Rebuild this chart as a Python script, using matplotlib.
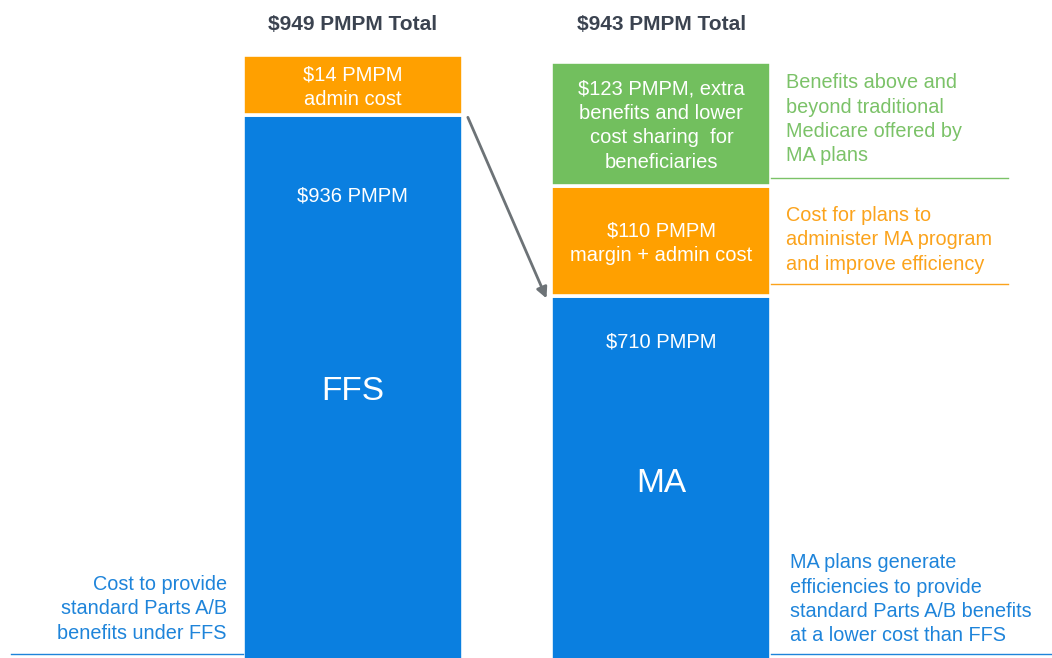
import matplotlib.pyplot as plt

plt.rcParams['font.family'] = ['Liberation Sans', 'DejaVu Sans']

# values shown in the labels ($ PMPM)
bars = ['FFS', 'MA']
totals = [949, 943]
ffs_values = [936, 14]
ma_values = [710, 110, 123]

# the source slide is not drawn to scale: segment sizes as they appear
ffs_drawn = [854, 95]
ma_drawn = [570, 174, 194]

ffs_labels = ['', '$14 PMPM\nadmin cost']
ma_labels = ['', '$110 PMPM\nmargin + admin cost',
             '$123 PMPM, extra\nbenefits and lower\ncost sharing  for\nbeneficiaries']

ma_notes = ['MA plans generate\nefficiencies to provide\nstandard Parts A/B benefits\nat a lower cost than FFS',
            'Cost for plans to\nadminister MA program\nand improve efficiency',
            'Benefits above and\nbeyond traditional\nMedicare offered by\nMA plans']
ffs_note = 'Cost to provide\nstandard Parts A/B\nbenefits under FFS'

blue = '#0a7fe0'
orange = '#ffa000'
green = '#72bf5e'
seg_colors = [blue, orange, green]
note_colors = ['#1e84da', '#fba31c', '#7bc268']

fig = plt.figure(figsize=(10.52, 6.58), dpi=100)
ax = fig.add_axes([0, 0, 1, 1])
ax.set_xlim(-1.144, 2.266)
ax.set_ylim(3, 1035)
ax.axis('off')

w = 0.713
fs = 14.5
ls = 1.36

for i, drawn in enumerate([ffs_drawn, ma_drawn]):
    bottom = 0
    for j, h in enumerate(drawn):
        ax.bar(i, h, width=w, bottom=bottom, color=seg_colors[j],
               edgecolor='white', linewidth=2.6)
        lab = [ffs_labels, ma_labels][i][j]
        if lab:
            ax.text(i, bottom + h / 2 - 3, lab, ha='center', va='center',
                    color='white', fontsize=fs, linespacing=ls)
        bottom += h
    ax.text(i, 997, f'${totals[i]} PMPM Total', ha='center', va='center',
            fontsize=15, fontweight='bold', color='#3b4350')

# blue segment labels
ax.text(0, 727, f'${ffs_values[0]} PMPM', ha='center', va='center', color='white', fontsize=fs)
ax.text(0, 421, bars[0], ha='center', va='center', color='white', fontsize=24)
ax.text(1, 499, f'${ma_values[0]} PMPM', ha='center', va='center', color='white', fontsize=fs)
ax.text(1, 276, bars[1], ha='center', va='center', color='white', fontsize=24)

# arrow from FFS blue top to MA blue top
ax.annotate('', xy=(1 - w / 2 - 0.016, ma_drawn[0] - 3),
            xytext=(w / 2 + 0.016, ffs_drawn[0] - 3),
            arrowprops=dict(arrowstyle='-|>', color='#6d7377', lw=2,
                            mutation_scale=16, shrinkA=0, shrinkB=0))

# right side notes for MA
right = 1 + w / 2
line_end = [2.266, 2.123, 2.123]
line_y = [9, 590, 756]
note_y = [95, 659, 848]
note_x = [right + 0.06, right + 0.047, right + 0.047]
for k in range(3):
    ax.plot([right, line_end[k]], [line_y[k], line_y[k]], color=note_colors[k], lw=1)
    ax.text(note_x[k], note_y[k], ma_notes[k], ha='left', va='center',
            color=note_colors[k], fontsize=14.3, linespacing=ls)

# left note for FFS
ax.plot([-1.108, -w / 2], [9, 9], color=note_colors[0], lw=1)
ax.text(-w / 2 - 0.052, 80, ffs_note, ha='right', va='center',
        color=note_colors[0], fontsize=14.3, linespacing=ls)

fig.savefig('out.png', dpi=100)
